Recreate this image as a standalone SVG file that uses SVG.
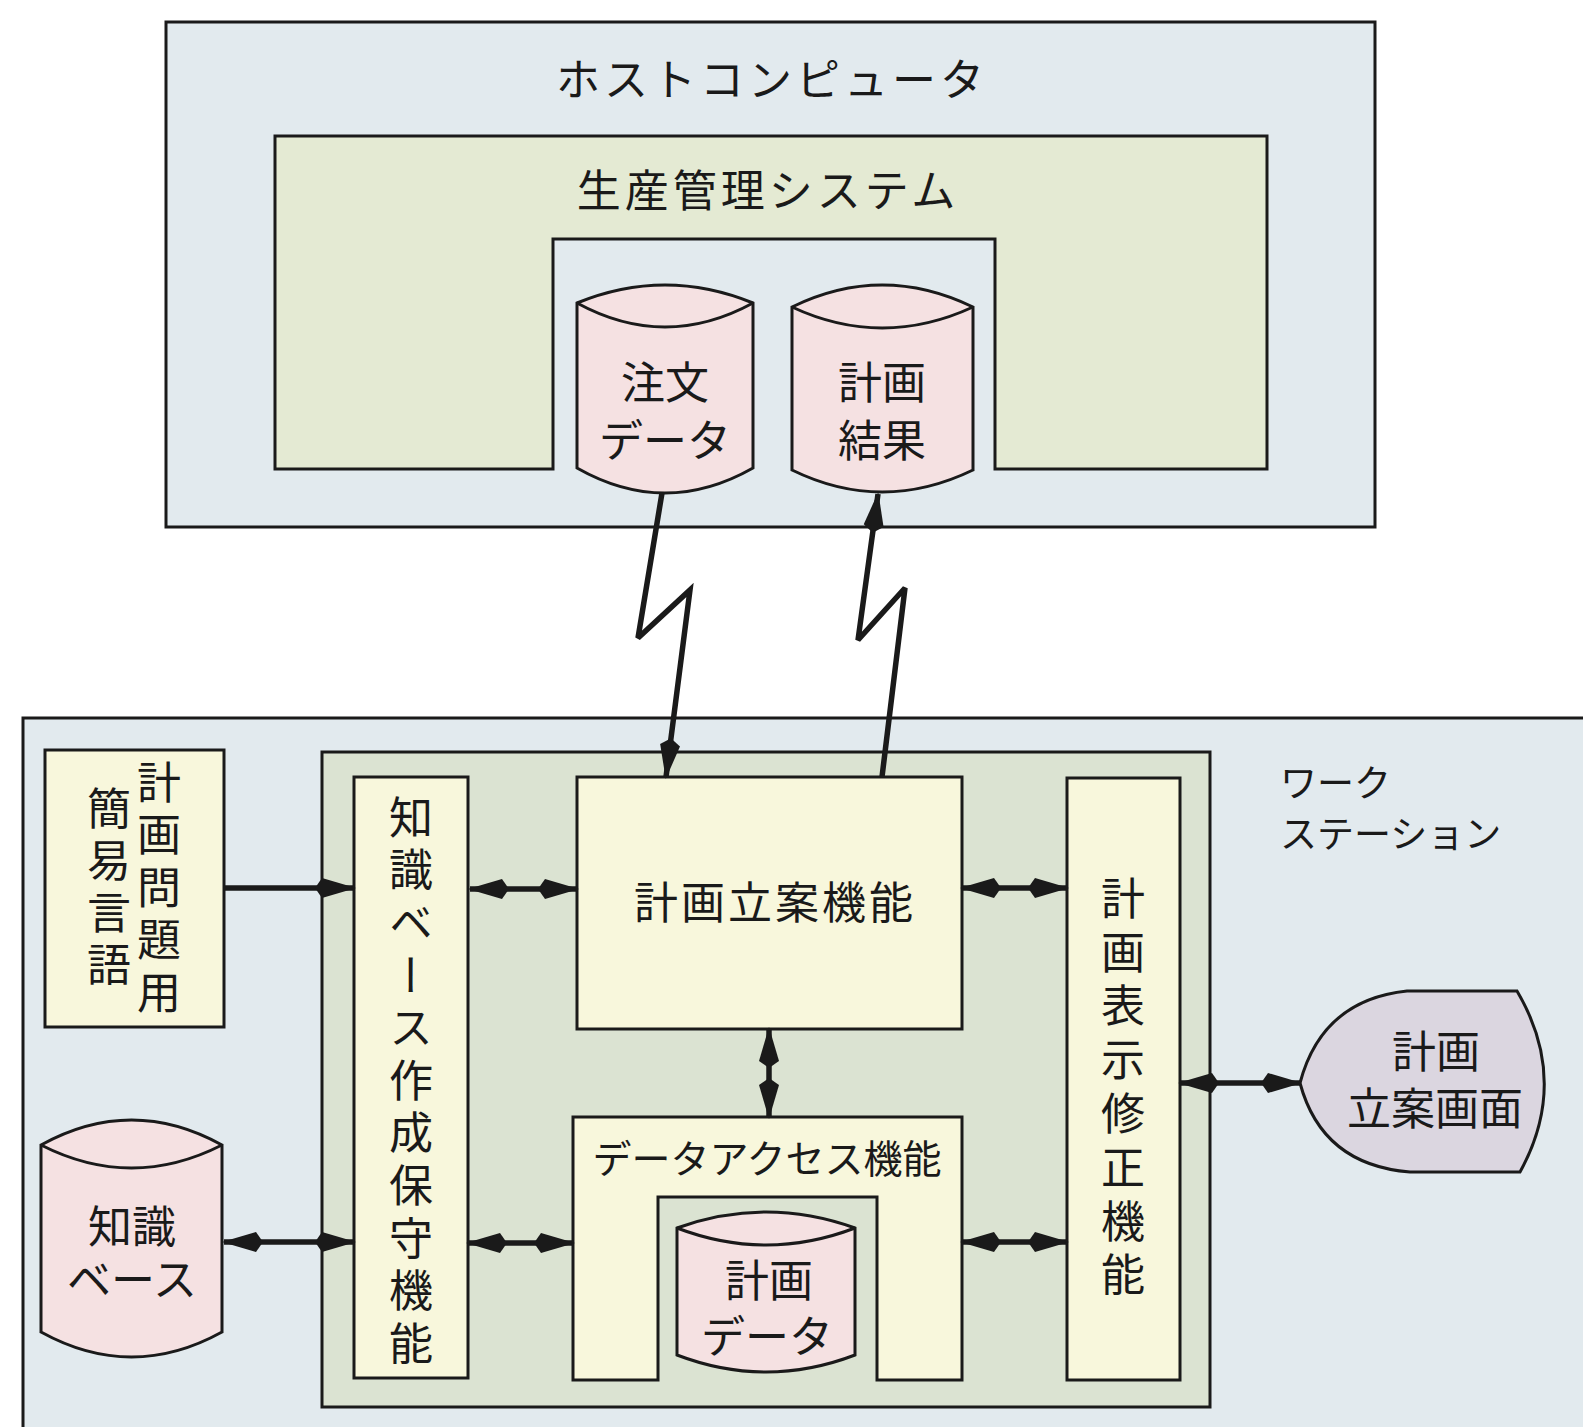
<svg xmlns="http://www.w3.org/2000/svg" width="1583" height="1427" viewBox="0 0 1583 1427">
<style>
.box{stroke:#1a1a1a;stroke-width:3;stroke-linejoin:miter}
.blue{fill:#e2eaee}
.green{fill:#e4ead3}
.wsgreen{fill:#dbe3d2}
.yellow{fill:#f8f7dc}
.pink{fill:#f5e1e2}
.lav{fill:#dbd6e0}
.t{font-family:"Noto Sans CJK JP","Noto Sans CJK SC",sans-serif;font-size:44px;fill:#1a1a1a}
.c{text-anchor:middle}
.v{writing-mode:vertical-rl;text-anchor:start}
.conn{fill:none;stroke:#1a1a1a;stroke-width:5.5;stroke-linejoin:miter;stroke-miterlimit:3}
</style>
<defs>
<marker id="ah" viewBox="0 0 46 22" refX="44" refY="11" markerWidth="46" markerHeight="22" markerUnits="userSpaceOnUse" orient="auto-start-reverse">
<path d="M46,11 L12,1 L5,11 L12,21 Z" fill="#1a1a1a"/>
</marker>
</defs>
<rect width="1583" height="1427" fill="#ffffff"/>

<g id="host">
<rect class="box blue" x="166" y="22" width="1209" height="505"/>
<text class="t c" x="772" y="96" letter-spacing="4">ホストコンピュータ</text>
</g>

<g id="seisan">
<path class="box green" d="M275,136 L1267,136 L1267,469 L995,469 L995,239 L553,239 L553,469 L275,469 Z"/>
<text class="t c" x="768" y="207" letter-spacing="4">生産管理システム</text>
</g>

<g id="chumon">
<path class="box pink" d="M577,303 Q665,267 753,303 L753,468 Q665,518 577,468 Z"/>
<path class="box" fill="none" d="M577,303 Q665,351 753,303"/>
<text class="t c" x="665" y="399">注文</text>
<text class="t c" x="665" y="457">データ</text>
</g>

<g id="keikaku-kekka">
<path class="box pink" d="M792,307 Q882,263 973,307 L973,470 Q882,514 792,470 Z"/>
<path class="box" fill="none" d="M792,307 Q882,349 973,307"/>
<text class="t c" x="882" y="399">計画</text>
<text class="t c" x="882" y="457">結果</text>
</g>

<g id="workstation">
<rect class="box blue" x="23" y="718" width="1600" height="800"/>
<text class="t" x="1280" y="797" style="font-size:37px">ワーク</text>
<text class="t" x="1280" y="848" style="font-size:37px">ステーション</text>
</g>

<g id="ws-inner">
<rect class="box wsgreen" x="322" y="752" width="888" height="655"/>
</g>

<g id="kantan-gengo">
<rect class="box yellow" x="45" y="750" width="179" height="277"/>
<text class="t v" x="159" y="760 812.5 865 917.5 970">計画問題用</text>
<text class="t v" x="109" y="786 838 890 942">簡易言語</text>
</g>

<g id="chishiki-db">
<path class="box pink" d="M41,1145 Q131.5,1095 222,1145 L222,1332 Q131.5,1382 41,1332 Z"/>
<path class="box" fill="none" d="M41,1145 Q131.5,1191 222,1145"/>
<text class="t c" x="132" y="1243">知識</text>
<text class="t c" x="132" y="1296">ベース</text>
</g>

<g id="chishiki-sakusei">
<rect class="box yellow" x="354" y="777" width="114" height="601"/>
<text class="t v" x="411" y="795 847.6 900.2 952.8 1005.4 1058 1110.6 1163.2 1215.8 1268.4 1321">知識ベース作成保守機能</text>
</g>

<g id="keikaku-ritsuan">
<rect class="box yellow" x="577" y="777" width="385" height="252"/>
<text class="t c" x="775" y="919" letter-spacing="3">計画立案機能</text>
</g>

<g id="data-access">
<path class="box yellow" d="M573,1117 L962,1117 L962,1380 L877,1380 L877,1197 L658,1197 L658,1380 L573,1380 Z"/>
<text class="t c" x="767" y="1173" style="font-size:39px">データアクセス機能</text>
</g>

<g id="keikaku-data">
<path class="box pink" d="M677,1228 Q766,1196 855,1228 L855,1355 Q766,1389 677,1355 Z"/>
<path class="box" fill="none" d="M677,1228 Q766,1262 855,1228"/>
<text class="t c" x="769" y="1297">計画</text>
<text class="t c" x="767" y="1353">データ</text>
</g>

<g id="keikaku-hyoji">
<rect class="box yellow" x="1067" y="778" width="113" height="602"/>
<text class="t v" x="1123" y="876 929.8 983.6 1037.4 1091.2 1145 1198.8 1252.6">計画表示修正機能</text>
</g>

<g id="ritsuan-gamen">
<path class="box lav" d="M1300,1083 Q1322,1000 1407,991 L1517,991 Q1570,1081 1520,1172 L1410,1172 Q1322,1165 1300,1083 Z"/>
<text class="t c" x="1436" y="1068">計画</text>
<text class="t c" x="1435" y="1125">立案画面</text>
</g>

<g id="connectors">
<path class="conn" d="M662,493 L638,638 L690,590 L666,777" marker-end="url(#ah)"/>
<path class="conn" d="M882,777 L905,588 L858,640 L878,494" marker-end="url(#ah)"/>
<path class="conn" d="M224,888 L354,888" marker-end="url(#ah)"/>
<path class="conn" d="M470,889 L577,889" marker-start="url(#ah)" marker-end="url(#ah)"/>
<path class="conn" d="M962,888 L1067,888" marker-start="url(#ah)" marker-end="url(#ah)"/>
<path class="conn" d="M224,1242 L354,1242" marker-start="url(#ah)" marker-end="url(#ah)"/>
<path class="conn" d="M468,1243 L573,1243" marker-start="url(#ah)" marker-end="url(#ah)"/>
<path class="conn" d="M962,1242 L1067,1242" marker-start="url(#ah)" marker-end="url(#ah)"/>
<path class="conn" d="M769,1029 L769,1117" marker-start="url(#ah)" marker-end="url(#ah)"/>
<path class="conn" d="M1180,1083 L1300,1083" marker-start="url(#ah)" marker-end="url(#ah)"/>
</g>
</svg>
